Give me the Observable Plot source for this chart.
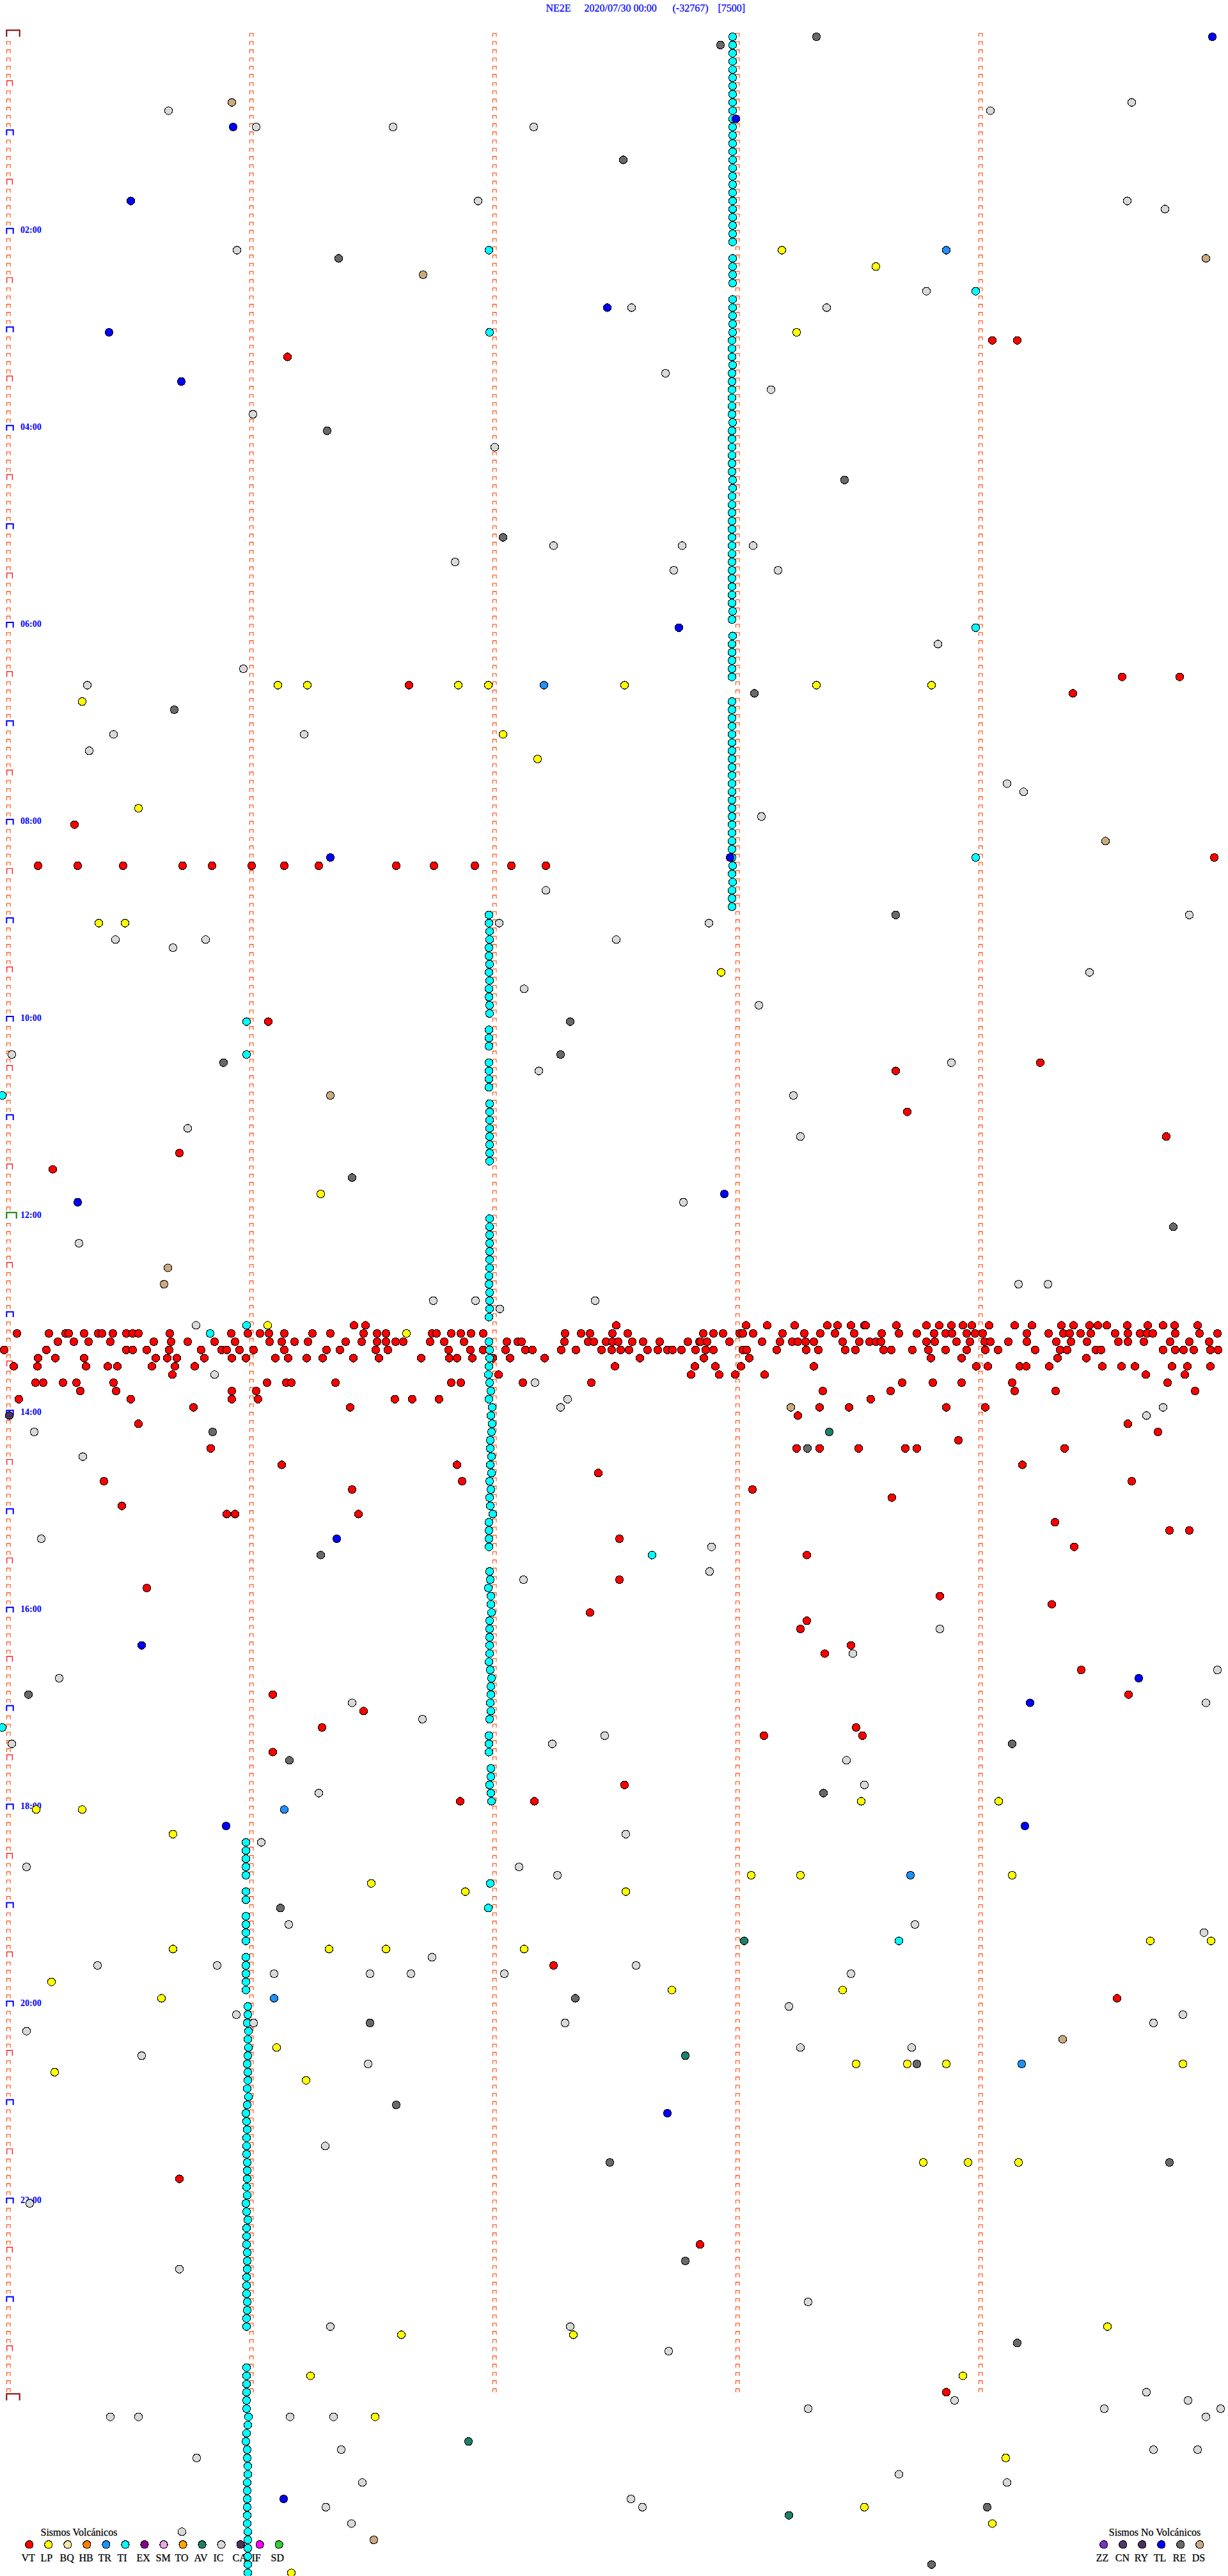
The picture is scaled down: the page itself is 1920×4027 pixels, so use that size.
<!DOCTYPE html>
<html><head><meta charset="utf-8">
<script src="https://cdn.jsdelivr.net/npm/d3@7"></script>
<script src="https://cdn.jsdelivr.net/npm/@observablehq/plot@0.6"></script>
<style>html,body{margin:0;padding:0;background:#fff}svg{display:block}</style>
</head><body><div id="chart"></div>
<script>
// Header and time labels
const headerTexts = ["NE2E", "2020/07/30 00:00", "(-32767)", "[7500]"];
const headerOffsets = [853, 913, 1051, 1122];
const hourLabels = ["02:00","04:00","06:00","08:00","10:00","12:00","14:00","16:00","18:00","20:00","22:00"];
const hourRows = [24,48,72,96,120,144,168,192,216,240,264];

// Legend
const volcanicCodes = ["VT","LP","BQ","HB","TR","TI","EX","SM","TO","AV","IC","CA","IF","SD"];
const volcanicColors = ["#ff0000","#ffff00","#f3e6a6","#ff8000","#1e90ff","#00ffff","#8b008b","#eaa4ea","#ffa500","#1f8068","#d9d9d9","#4f2f5f","#ff00ff","#32cd32"];
const otherCodes = ["ZZ","CN","RY","TL","RE","DS"];
const otherColors = ["#7f2fc8","#4f3a6a","#4f2f5f","#0000ff","#696969","#c9aa80"];

// Events: each entry is a row (5-minute line) followed by the offsets along that line
const VT = [
[37,1551,1590],[39,449],[78,1754,1844],[79,639],[80,1677],[96,116],[100,1898],
[101,59,121,192,285,331,393,444,498,619,678,742,799,853],[120,419],[125,1626],[126,1400],[131,1418],[134,1823],[136,280],[138,82],
[157,553,571,963,1166,1199,1242,1293,1309,1330,1351,1353,1401,1448,1468,1487,1505,1519,1546,1586,1613,1659,1678,1703,1716,1730,1762,1794,1818,1836,1872],
[158,26,76,102,107,131,153,159,176,197,207,216,265,361,387,406,420,444,488,516,568,589,603,675,682,705,720,736,755,883,908,922,957,981,1099,1115,1130,1156,1161,1177,1223,1257,1282,1305,1335,1378,1405,1433,1460,1478,1488,1511,1524,1536,1605,1639,1662,1672,1689,1705,1743,1763,1782,1793,1802,1837,1875,1903],
[159,90,115,138,172,240,267,293,335,367,421,440,460,481,540,565,589,603,618,630,672,694,725,792,809,815,882,919,928,947,957,966,988,1005,1031,1075,1093,1095,1105,1140,1191,1219,1238,1247,1259,1272,1317,1343,1359,1369,1377,1448,1461,1495,1516,1539,1548,1576,1605,1651,1674,1699,1748,1763,1788,1829,1859,1890],
[160,6,72,197,207,229,264,314,346,354,374,396,444,510,531,587,606,701,735,755,790,821,832,877,900,940,956,970,983,1012,1028,1043,1051,1065,1087,1103,1115,1161,1167,1214,1260,1279,1321,1337,1381,1393,1426,1451,1478,1511,1540,1560,1618,1657,1668,1713,1721,1818,1837,1850,1866,1892,1904],
[161,59,86,131,243,261,276,319,362,384,430,450,479,504,552,592,658,702,714,738,770,797,851,1000,1100,1171,1455,1503,1653,1698],
[162,21,58,134,168,183,237,273,304,961,1086,1118,1158,1272,1526,1544,1594,1604,1640,1723,1753,1774,1832,1856,1892],
[163,269,779,1080,1124,1149,1195,1791,1852],
[164,55,67,98,119,177,417,447,455,524,705,720,817,924,1410,1458,1503,1582,1825],
[165,125,181,362,400,1286,1392,1586,1650,1868],
[166,29,204,362,403,617,644,686,1361],
[167,302,547,1281,1327,1479,1540],[168,1247],[169,216,1763],[170,1810],[171,1498],[172,329,1245,1281,1342,1415,1433,1664],
[174,440,714,1598],[175,935],[176,162,722,1769],[177,550,1176],[178,1394],[179,190],[180,354,367,560],[181,1649],[182,1828,1859],
[183,968],[184,1679],[185,1261],[188,968],[189,229],[190,1469],[191,1644],[192,922],[193,1261],[194,1251],[196,1330],[197,1289],
[199,1690],[202,426,1764],[204,568],[206,503,1338],[207,1194,1348],[209,426],[213,976],[215,719,835],[235,865],[239,1746],[261,280],[269,1094],[287,1479]
];
const LP = [
[26,1222],[28,1369],[36,1245],[79,434,480,716,763,976,1276,1456],[81,128],[85,786],[88,840],[94,216],[108,154,195],[114,1127],[141,501],
[157,418],[158,635],[215,1346,1561],[216,56,128],[219,270],[224,1174,1251,1582],[225,580],[226,727,978],[232,1798,1893],[233,270,514,603,819],
[237,80],[238,1050,1317],[239,252],[245,432],[247,1338,1418,1479,1849],[248,85],[249,478],[259,1443,1513,1592],[279,1731],[280,627,896],
[285,485,1505],[290,586],[295,1572],[301,1351],[303,1551],[309,455]
];
const TR = [[26,1479],[79,850],[216,444],[224,1423],[239,428],[247,1597]];
const TI = [
[0,1145],[1,1145],[2,1145],[3,1145],[4,1145],[5,1145],[6,1145],[7,1145],[8,1145],[9,1145],[10,1145],[11,1145],[12,1145],[13,1145],[14,1145],[15,1145],[16,1145],[17,1145],[18,1145],[19,1145],[20,1145],[21,1145],[22,1145],[23,1145],[24,1145],[25,1145],
[26,764],[27,1145],[28,1145],[29,1145],[30,1145],[31,1525],[32,1145],[33,1145],[34,1145],[35,1145],[36,765],[36,1145],
[37,1144],[38,1144],[39,1144],[40,1145],[41,1144],[42,1144],[43,1144],[44,1144],[45,1144],[46,1144],[47,1145],[48,1144],[49,1144],[50,1144],[51,1144],[52,1144],[53,1144],[54,1145],[55,1145],[56,1144],[57,1144],[58,1144],[59,1144],[60,1144],[61,1144],[62,1144],[63,1144],[64,1144],[65,1144],[66,1144],[67,1144],[68,1144],[69,1144],[70,1145],[71,1144],
[72,1525],[73,1145],[74,1144],[75,1144],[76,1144],[77,1144],[78,1144],[81,1144],[82,1144],[83,1144],[84,1144],[85,1144],[86,1144],[87,1144],[88,1144],[89,1144],[90,1144],[91,1144],[92,1144],[93,1144],[94,1144],[95,1144],[96,1144],[97,1144],[98,1144],[99,1144],[100,1525],[100,1144],[101,1145],[102,1144],[103,1145],[104,1144],[105,1144],[106,1144],
[107,764],[108,764],[109,765],[110,765],[111,764],[112,764],[113,765],[114,764],[115,765],[116,764],[117,764],[118,765],[119,765],
[120,385],[121,764],[122,764],[123,764],[124,385],[125,764],[126,764],[127,764],[128,764],[129,3],
[130,765],[131,765],[132,765],[133,765],[134,765],[135,765],[136,765],[137,765],
[144,765],[145,765],[146,765],[147,765],[148,765],[149,765],[150,765],[151,764],[152,764],[153,765],[154,765],[155,765],[156,764],
[157,385],[158,328],
[159,764],[160,765],[161,765],[162,764],[163,763],[164,765],[165,767],[166,764],[167,769],[168,767],[169,769],[170,768],[171,766],[172,766],[173,768],[174,766],[175,768],[176,765],[177,767],[178,765],[179,766],[180,770],[181,764],[182,764],[183,764],[184,764],
[185,1019],
[187,765],[188,766],[189,763],[190,767],[191,767],[192,768],[193,765],[194,765],[195,765],[196,765],[197,765],[198,764],[199,766],[200,768],[201,767],[202,767],[203,766],[204,767],[205,765],
[206,3],[207,764],[208,764],[209,764],[211,767],[212,767],[213,765],[214,767],[215,768],
[220,384],[221,384],[222,384],[223,384],[224,384],[225,766],[226,384],[227,384],[228,763],[229,384],[230,384],[231,384],[232,384],[232,1405],
[234,384],[235,384],[236,384],[237,384],[238,384],
[240,387],[241,387],[242,386],[243,388],[244,387],[245,388],[246,387],[247,386],[248,387],[249,387],[250,386],[251,388],[252,386],[253,384],[254,385],[255,386],[256,385],[257,385],[258,385],[259,386],[260,386],[261,386],[262,385],[263,386],[264,384],[265,385],[266,387],[267,385],[268,385],[269,385],[270,386],[271,386],[272,386],[273,385],[274,385],[275,385],[276,386],[277,386],[278,385],[279,385],
[284,385],[285,385],[286,385],[287,385],[288,385],[289,385],[290,388],[291,387],[292,385],[293,384],[294,386],[295,386],[296,387],[297,387],[298,386],[299,386],[300,386],[301,386],[302,386],[303,386],[304,387],[305,387],[306,387],[307,387],[308,387],[309,387]
];
const AV = [[170,1296],[232,1163],[246,1071],[293,732],[302,1233]];
const IC = [
[8,1769],[9,263,1548],[11,400,614,834],[20,747,1762],[21,1821],[26,370],[31,1448],[33,987,1292],[41,1040],[43,1205],[46,395],[50,773],
[62,865,1066,1177],[64,711],[65,1053,1216],[74,1466],[77,380],[79,136],[85,177,475],[87,139],[91,1574],[92,1600],[95,1190],[104,853],[107,1859],
[108,780,1108],[110,180,321,963],[111,270],[114,1703],[116,819],[118,1186],[124,18],[125,1487],[126,842],[129,1240],[133,293],[134,1251],[142,1068],
[147,123],[152,1592,1638],[154,677,743,930],[155,781],[157,306],[163,335],[164,836],[166,887],[167,876,1818],[168,1792],[170,53],[173,129],
[183,64],[184,1112],[187,1109],[188,818],[194,1469],[197,1333],[199,1903],[200,92],[203,550,1885],[205,660],[207,945],[208,18,863],[210,1323],
[213,1351],[214,498],[219,978],[220,408],[223,41,811],[224,871],[230,451,1430],[231,1882],[234,675],[235,152,339,994],[236,428,578,642,788,1330],
[240,1233],[241,369,1849],[242,396,883,1803],[243,41],[245,1251,1425],[246,221],[247,575],[257,508],[264,46],[272,280],[276,1263],[279,516,891],
[282,1045],[287,1792],[288,1492,1857],[289,1263,1726,1908],[290,172,216,453,521,1885],[294,533,1803,1872],[295,307],[297,1405],[298,566,1574],
[300,986],[301,509,1004],[303,549],[304,284]
];
const CA = [[168,14]];
const TL = [
[0,1895],[10,1150],[11,364],[20,204],[33,949],[36,170],[42,283],[72,1061],[100,516,1141],[141,1132],[142,121],[183,526],[196,221],[200,1780],
[203,1610],[218,353,1602],[253,1043],[300,443]
];
const RE = [
[0,1276],[1,1126],[15,974],[27,529],[48,511],[54,1320],[61,786],[80,1179],[82,272],[107,1400],[120,891],[124,876],[125,349],[139,550],[145,1834],
[170,332],[172,1262],[185,501],[202,44],[208,1582],[210,452],[214,1287],[228,438],[239,899],[242,578],[247,1433],[252,619],[259,953,1828],[271,1071],
[281,1590],[301,1543],[308,1456]
];
const DS = [[8,362],[27,1885],[29,661],[98,1728],[129,516],[150,262],[152,256],[167,1236],[244,1661],[305,584]];

// Flatten, keeping the catalogue order (later types are painted over earlier ones)
const catalogue = [["VT",VT],["LP",LP],["TR",TR],["TI",TI],["AV",AV],["IC",IC],["CA",CA],["TL",TL],["RE",RE],["DS",DS]];
const events = catalogue.flatMap(([type, rows]) =>
  rows.flatMap(([row, ...offsets]) => offsets.map(offset => ({type, row, offset}))));

// Row marks along the five time columns
const rowCount = 288;
const allRows = d3.range(0, rowCount + 1);
const columnOffsets = [10, 390, 770, 1150, 1530];
const smallTicks = columnOffsets.flatMap((c, ci) =>
  allRows.filter(r => r < rowCount && (ci > 0 || r % 6 !== 0)).map(row => ({row, offset: c})));

// Tick glyph: open at the bottom, anchored at its bottom-left corner
const staple = (w, h) => ({draw(ctx) { ctx.moveTo(0, 0); ctx.lineTo(0, -h); ctx.lineTo(w, -h); ctx.lineTo(w, 0); }});
const rowsWhere = f => allRows.filter(f);
const tickMark = (rows, symbol, stroke, strokeWidth, x) =>
  Plot.dot(rows, {x: () => x, y: d => d, symbol, stroke, strokeWidth, fill: "none"});

const serif = "Liberation Serif";
const legendRow = 305.56;
const legendTitleRow = 304.05;
const legendLabelRow = 307.2;

const textMark = (data, opts) => Plot.text(data, {fontFamily: serif, fontSize: 16, fill: "black", stroke: opts.fill ?? "black", strokeWidth: 0.25, textAnchor: "start", ...opts});
const dotRadius = 6.1;
const dotStyle = {r: dotRadius, stroke: "black", strokeWidth: 1.1, shapeRendering: "crispEdges"};

const chart = Plot.plot({
  width: 1920, height: 4027, margin: 0,
  style: {background: "white"},
  x: {domain: [0, 1920], range: [0, 1920], axis: null},
  y: {domain: [0, 309], range: [57, 57 + 309 * 12.83], axis: null},
  color: {domain: [...volcanicCodes, ...otherCodes], range: [...volcanicColors, ...otherColors]},
  marks: [
    // header
    textMark(headerTexts, {x: (d, i) => headerOffsets[i], y: () => -3.45, text: d => d, fill: "#0000ff"}),
    // legends
    textMark(["Sismos Volcánicos"], {x: () => 63, y: () => legendTitleRow, text: d => d}),
    textMark(["Sismos No Volcánicos"], {x: () => 1733.3, y: () => legendTitleRow, text: d => d}),
    textMark(volcanicCodes, {x: (d, i) => 33 + 30 * i, y: () => legendLabelRow, text: d => d}),
    textMark(otherCodes, {x: (d, i) => 1713.3 + 30 * i, y: () => legendLabelRow, text: d => d}),
    Plot.dot(volcanicCodes, {x: (d, i) => 45.3 + 30.03 * i, y: () => legendRow, fill: d => d, ...dotStyle}),
    Plot.dot(otherCodes, {x: (d, i) => 1725.3 + 30 * i, y: () => legendRow, fill: d => d, ...dotStyle}),
    // row ticks
    Plot.dot(smallTicks, {x: "offset", y: "row", symbol: staple(5.5, 5.3), stroke: "#ff4500", strokeWidth: 1.1, fill: "none"}),
    tickMark(rowsWhere(r => r % 12 === 6), staple(8.6, 8.4), "#ff0000", 1.2, 10.2),
    tickMark(rowsWhere(r => r % 12 === 0 && r % 144 !== 0), staple(10.4, 8.2), "#0000ff", 2, 9.8),
    tickMark(rowsWhere(r => r === 144), staple(15.4, 9.6), "#008000", 2, 9.8),
    tickMark(rowsWhere(r => r % 288 === 0), staple(20.4, 10.2), "#8b0000", 2, 9.8),
    // hour labels
    Plot.text(hourLabels, {x: () => 31.5, y: (d, i) => hourRows[i], dy: -5.5, text: d => d, fontFamily: serif, fontWeight: "bold", fontSize: 14, fill: "#0000ff", textAnchor: "start"}),
    // events
    Plot.dot(events, {x: "offset", y: "row", fill: "type", ...dotStyle})
  ]
});
document.getElementById("chart").appendChild(chart);
</script>
</body></html>
